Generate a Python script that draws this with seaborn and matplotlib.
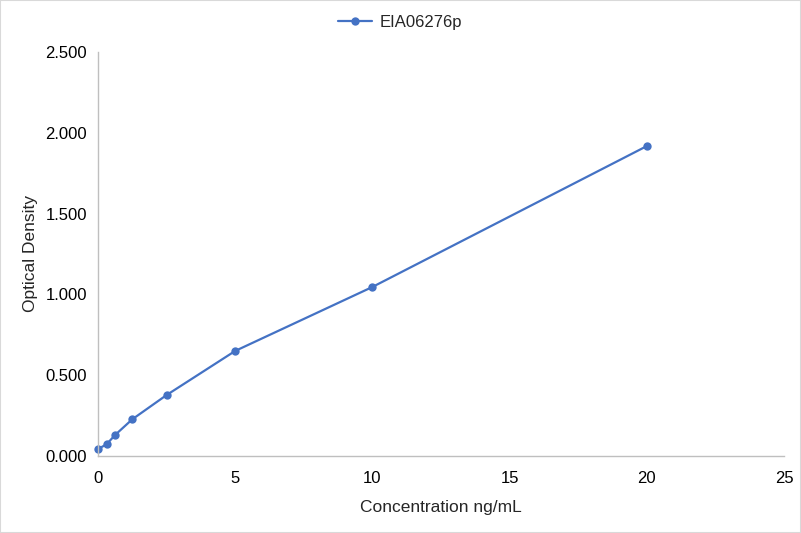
import matplotlib
matplotlib.use("Agg")
import matplotlib.pyplot as plt
import pandas as pd
import seaborn as sns
from matplotlib.ticker import FormatStrFormatter

concentration = [0, 0.3125, 0.625, 1.25, 2.5, 5, 10, 20]
optical_density = [0.043, 0.072, 0.130, 0.227, 0.377, 0.650, 1.046, 1.918]
series_name = "EIA06276p"

df = pd.DataFrame({"conc": concentration, "od": optical_density})

sns.set_style("white")
plt.rcParams["font.family"] = ["Liberation Sans", "DejaVu Sans"]

fig = plt.figure(figsize=(8.01, 5.33), dpi=100)
ax = fig.add_axes([0.1223, 0.1445, 0.8567, 0.758])

sns.lineplot(data=df, x="conc", y="od", ax=ax, color="#4472C4", linewidth=1.6,
             marker="o", markersize=6, markeredgewidth=0, label=series_name)
for line in ax.lines:
    line.set_clip_on(False)

ax.set_xlim(0, 25)
ax.set_ylim(0, 2.5)
ax.set_xticks([0, 5, 10, 15, 20, 25])
ax.set_yticks([0, 0.5, 1.0, 1.5, 2.0, 2.5])
ax.yaxis.set_major_formatter(FormatStrFormatter("%.3f"))
ax.tick_params(axis="both", length=0, labelsize=12, colors="#000000")
ax.tick_params(axis="x", pad=11)
ax.tick_params(axis="y", pad=8)

for side in ["top", "right"]:
    ax.spines[side].set_visible(False)
for side in ["left", "bottom"]:
    ax.spines[side].set_color("#BFBFBF")
    ax.spines[side].set_linewidth(1.0)

ax.set_xlabel("Concentration ng/mL", fontsize=12.5, labelpad=10)
ax.set_ylabel("Optical Density", fontsize=12.5, labelpad=5)

ax.legend(loc="center", bbox_to_anchor=(0.5, 1 - 22 / 533),
          bbox_transform=fig.transFigure, frameon=False,
          fontsize=12, handlelength=2.0, handletextpad=0.5, borderaxespad=0)

fig.patches.append(plt.Rectangle((0, 0), 1, 1, transform=fig.transFigure,
                                 fill=False, edgecolor="#D9D9D9", linewidth=1.5))

fig.savefig("out.png", dpi=100)
